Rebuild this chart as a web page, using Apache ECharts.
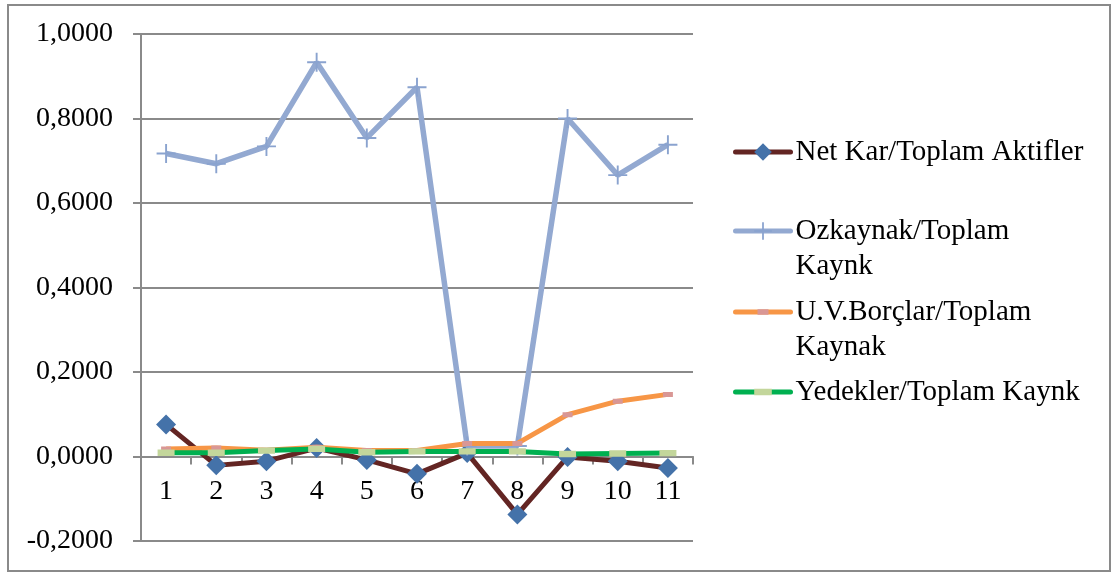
<!DOCTYPE html>
<html>
<head>
<meta charset="utf-8">
<script src="https://cdn.jsdelivr.net/npm/echarts@6/dist/echarts.min.js"></script>
<style>
  html, body { margin: 0; padding: 0; background: #ffffff; }
  #chart { width: 1112px; height: 574px; }
</style>
</head>
<body>
<div id="chart"></div>
<script>
// Period numbers on the category axis
const categories = ['1', '2', '3', '4', '5', '6', '7', '8', '9', '10', '11'];

// Ratio series
const netKarToplamAktifler = [0.076, -0.021, -0.011, 0.020, -0.008, -0.041, 0.008, -0.137, -0.001, -0.011, -0.027];
const ozkaynakToplamKaynak = [0.717, 0.693, 0.734, 0.933, 0.754, 0.874, 0.025, 0.025, 0.800, 0.666, 0.738];
const uvBorclarToplamKaynak = [0.018, 0.020, 0.015, 0.022, 0.014, 0.014, 0.031, 0.031, 0.099, 0.131, 0.147];
const yedeklerToplamKaynak = [0.009, 0.009, 0.014, 0.018, 0.010, 0.012, 0.012, 0.012, 0.006, 0.007, 0.008];

// Series names and how they wrap in the legend
const seriesNames = ['Net Kar/Toplam Aktifler', 'Ozkaynak/Toplam Kaynk', 'U.V.Borçlar/Toplam Kaynak', 'Yedekler/Toplam Kaynk'];
const legendLines = [
  ['Net Kar/Toplam Aktifler'],
  ['Ozkaynak/Toplam', 'Kaynk'],
  ['U.V.Borçlar/Toplam', 'Kaynak'],
  ['Yedekler/Toplam Kaynk']
];

// Value axis range
const yMin = -0.2;
const yMax = 1.0;
const yStep = 0.2;

const FONT = 'Liberation Serif';
const AXIS_FONT_SIZE = 28;
const LEGEND_FONT_SIZE = 29;
const LINE_H = 35;
const GRID_COLOR = '#8a8a8a';

const GRID_TOP = 34;
const GRID_BOTTOM = 33;
const CHART_H = 574;
// Lift the category axis from the bottom edge up to the zero line
const plotH = CHART_H - GRID_TOP - GRID_BOTTOM;
const zeroOffset = -plotH * (0 - yMin) / (yMax - yMin);

// Marker shapes; the corner specks keep the drawn shape square so
// the bar keeps its proportions when scaled
const plusPath = 'path://M9,0h2v20h-2z M0,9h20v2h-20z';
const wideBar = 'path://M0,0h0.01v0.01h-0.01z M15.99,15.99h0.01v0.01h-0.01z M0,5h16v6h-16z';
const shortBar = 'path://M0,0h0.01v0.01h-0.01z M15.99,15.99h0.01v0.01h-0.01z M3,5.5h10v5h-10z';

function legendFor(i, iconCenterY) {
  const lines = legendLines[i];
  // An empty line above a two-line label keeps the icon level with its first line
  const text = lines.length > 1 ? '\n' + lines.join('\n') : lines[0];
  const boxH = lines.length > 1 ? LINE_H * 3 : LINE_H;
  return {
    orient: 'vertical',
    left: 733,
    top: iconCenterY - boxH / 2,
    padding: 0,
    itemWidth: 55,
    itemHeight: 22,
    itemGap: 0,
    selectedMode: false,
    data: [seriesNames[i]],
    formatter: () => text,
    lineStyle: { width: 5, cap: 'round' },
    textStyle: {
      fontFamily: FONT,
      fontSize: LEGEND_FONT_SIZE,
      color: '#000',
      lineHeight: LINE_H
    }
  };
}

const chart = echarts.init(document.getElementById('chart'), null, { renderer: 'canvas' });

chart.setOption({
  backgroundColor: '#ffffff',
  animation: false,
  grid: { left: 141, right: 419, top: GRID_TOP, bottom: GRID_BOTTOM, containLabel: false, outerBoundsMode: 'none' },
  legend: [
    legendFor(0, 152),
    legendFor(1, 231),
    legendFor(2, 312),
    legendFor(3, 392)
  ],
  xAxis: {
    type: 'category',
    data: categories,
    boundaryGap: true,
    position: 'bottom',
    offset: zeroOffset,
    axisLine: { onZero: false, lineStyle: { color: GRID_COLOR, width: 2 } },
    axisTick: { show: true, length: 8, lineStyle: { color: GRID_COLOR, width: 2 } },
    axisLabel: {
      fontFamily: FONT, fontSize: AXIS_FONT_SIZE, color: '#000',
      margin: 16, padding: [5, 0, 0, 0], interval: 0
    },
    splitLine: { show: false }
  },
  yAxis: {
    type: 'value',
    min: yMin,
    max: yMax,
    interval: yStep,
    axisLine: { show: true, lineStyle: { color: GRID_COLOR, width: 2 } },
    axisTick: { show: true, length: 8, lineStyle: { color: GRID_COLOR, width: 2 } },
    axisLabel: {
      fontFamily: FONT, fontSize: AXIS_FONT_SIZE, color: '#000', margin: 28,
      formatter: v => v.toFixed(4).replace('.', ',')
    },
    splitLine: { show: true, lineStyle: { color: GRID_COLOR, width: 2 } }
  },
  graphic: [{
    type: 'rect',
    shape: { x: 8, y: 5, width: 1102, height: 566 },
    style: { fill: 'none', stroke: '#8a8a8a', lineWidth: 2 },
    silent: true,
    z: 100
  }],
  series: [
    {
      name: seriesNames[0],
      type: 'line',
      data: netKarToplamAktifler,
      symbol: 'diamond',
      symbolSize: 20,
      showAllSymbol: true,
      lineStyle: { color: '#632523', width: 5 },
      itemStyle: { color: '#4472a9' },
      z: 2
    },
    {
      name: seriesNames[1],
      type: 'line',
      data: ozkaynakToplamKaynak,
      symbol: plusPath,
      symbolSize: 19,
      showAllSymbol: true,
      lineStyle: { color: '#93a9d1', width: 5.5 },
      itemStyle: { color: '#8aa3cf' },
      z: 3
    },
    {
      name: seriesNames[2],
      type: 'line',
      data: uvBorclarToplamKaynak,
      symbol: shortBar,
      symbolSize: 16,
      showAllSymbol: true,
      lineStyle: { color: '#f79646', width: 5 },
      itemStyle: { color: '#d99795' },
      z: 4
    },
    {
      name: seriesNames[3],
      type: 'line',
      data: yedeklerToplamKaynak,
      symbol: wideBar,
      symbolSize: 17,
      showAllSymbol: true,
      lineStyle: { color: '#00b050', width: 5 },
      itemStyle: { color: '#c3d69b' },
      z: 5
    }
  ]
});
</script>
</body>
</html>
